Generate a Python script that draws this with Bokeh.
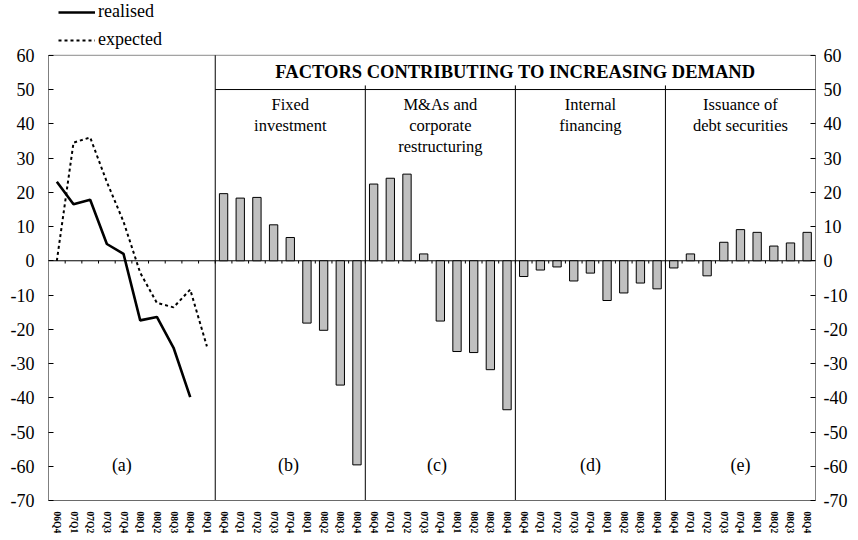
from bokeh.plotting import figure
from bokeh.models import Range1d, LinearAxis, FixedTicker, Legend, LegendItem
from bokeh.core.properties import value
from bokeh.embed import file_html
from bokeh.resources import INLINE

# ---------------- data ----------------
quarters_a = ["06Q4", "07Q1", "07Q2", "07Q3", "07Q4", "08Q1", "08Q2", "08Q3", "08Q4", "09Q1"]
quarters_b = ["06Q4", "07Q1", "07Q2", "07Q3", "07Q4", "08Q1", "08Q2", "08Q3", "08Q4"]
realised = [23.1, 16.5, 17.8, 4.9, 2.0, -17.4, -16.4, -25.4, -39.8]
expected = [0.0, 34.5, 36.0, 23.0, 11.4, -3.5, -12.3, -13.6, -8.4, -25.0]
fixed_investment = [19.6, 18.3, 18.5, 10.5, 6.8, -18.2, -20.3, -36.3, -59.6]
mergers_restructuring = [22.4, 24.1, 25.3, 2.0, -17.6, -26.5, -26.8, -31.8, -43.5]
internal_financing = [-4.6, -2.7, -1.8, -5.9, -3.6, -11.6, -9.4, -6.5, -8.2]
debt_securities = [-2.1, 2.0, -4.4, 5.4, 9.1, 8.3, 4.3, 5.2, 8.3]
panel_titles = ["Fixed\ninvestment", "M&As and\ncorporate\nrestructuring",
                "Internal\nfinancing", "Issuance of\ndebt securities"]
panel_letters = ["(a)", "(b)", "(c)", "(d)", "(e)"]
header = "FACTORS CONTRIBUTING TO INCREASING DEMAND"
y_ticks = [-70, -60, -50, -40, -30, -20, -10, 0, 10, 20, 30, 40, 50, 60]

FONT = "Liberation Serif"
AXIS_FONT = "'Liberation Serif', serif"
BAR_FILL = "#c0c0c0"

bar_series = [fixed_investment, mergers_restructuring, internal_financing, debt_securities]
n_a = len(quarters_a)
n_b = len(quarters_b)
offsets = [n_a + k * n_b for k in range(len(bar_series))]
total = n_a + len(bar_series) * n_b
y_min, y_max = y_ticks[0], y_ticks[-1]
HEADROOM = 16.0  # extra range above the axis top, room for the legend

p = figure(width=850, height=536, x_range=Range1d(0, total),
           y_range=Range1d(y_min, y_max + HEADROOM),
           output_backend="svg", toolbar_location=None,
           min_border_left=48, min_border_right=35, min_border_top=0, min_border_bottom=35)
p.xgrid.visible = False
p.ygrid.visible = False
p.outline_line_color = None
p.background_fill_color = "white"
p.border_fill_color = "white"

# ---------------- x axis labels ----------------
all_labels = quarters_a + quarters_b * len(bar_series)
centers = [i + 0.5 for i in range(total)]
xa = p.xaxis[0]
xa.ticker = FixedTicker(ticks=centers)
xa.major_label_overrides = {c: lab for c, lab in zip(centers, all_labels)}
xa.major_label_orientation = "vertical"
xa.major_label_text_font = AXIS_FONT
xa.major_label_text_font_style = "bold"
xa.major_label_text_font_size = "9.5px"
xa.major_label_text_color = "black"
xa.major_tick_line_color = None
xa.minor_tick_line_color = None
xa.axis_line_color = "#6a6a6a"
xa.major_label_standoff = 5

# ---------------- y axes ----------------
ya = p.yaxis[0]
ra = LinearAxis()
p.add_layout(ra, "right")
for ax, standoff in ((ya, 14), (ra, 8)):
    ax.ticker = FixedTicker(ticks=y_ticks)
    ax.major_label_overrides = {t: str(t) for t in y_ticks}
    ax.major_tick_in = 5
    ax.major_tick_out = 0
    ax.minor_tick_line_color = None
    ax.axis_line_color = None
    ax.major_tick_line_color = "black"
    ax.major_label_text_font = AXIS_FONT
    ax.major_label_text_font_size = "18px"
    ax.major_label_text_color = "black"
    ax.major_label_standoff = standoff

# axis lines / top border limited to the value range
p.segment(x0=[0, total], y0=[y_min, y_min], x1=[0, total], y1=[y_max, y_max],
          line_color="black", line_width=1)
p.segment(x0=[0], y0=[y_max], x1=[total], y1=[y_max], line_color="#8a8a8a", line_width=1)

# ---------------- zero line with small category ticks ----------------
p.segment(x0=[0], y0=[0], x1=[total], y1=[0], line_color="black", line_width=1)
bounds = list(range(1, total))
p.segment(x0=bounds, y0=[0] * len(bounds), x1=bounds, y1=[-0.8] * len(bounds),
          line_color="black", line_width=1)

# ---------------- panel (a) lines ----------------
r_real = p.line(centers[:len(realised)], realised, line_color="black", line_width=2.6)
r_exp = p.line(centers[:len(expected)], expected, line_color="black", line_width=2,
               line_dash="3 3")

# ---------------- bars ----------------
for off, series in zip(offsets, bar_series):
    xs = [off + i + 0.5 for i in range(len(series))]
    p.vbar(x=xs, top=series, bottom=0, width=0.5, fill_color=BAR_FILL,
           line_color="black", line_width=1)

# ---------------- separators & header box ----------------
p.segment(x0=[offsets[0]], y0=[y_min], x1=[offsets[0]], y1=[y_max], line_color="black", line_width=1)
p.segment(x0=offsets[1:], y0=[y_min] * 3, x1=offsets[1:], y1=[51.2] * 3, line_color="black", line_width=1)
p.segment(x0=[offsets[0]], y0=[50], x1=[total], y1=[50], line_color="black", line_width=1)

p.text(x=[(offsets[0] + total) / 2], y=[55.2], text=[header], text_font=value(FONT),
       text_font_style="bold", text_font_size="18.5px", text_align="center",
       text_baseline="middle", text_color="black")

title_x = [off + n_b / 2 for off in offsets]
p.text(x=title_x, y=[48.4] * len(title_x), text=panel_titles, text_font=value(FONT),
       text_font_size="16.5px", text_align="center", text_baseline="top",
       text_line_height=1.1, text_color="black")

letter_x = [4.4, 14.4, 23.3, 32.5, 41.5]
p.text(x=letter_x, y=[-59.5] * 5, text=panel_letters, text_font=value(FONT),
       text_font_size="18px", text_align="center", text_baseline="middle", text_color="black")

# ---------------- legend (top-left, above the value range) ----------------
legend = Legend(items=[LegendItem(label="realised", renderers=[r_real]),
                       LegendItem(label="expected", renderers=[r_exp])],
                location=(10, 450), orientation="vertical",
                glyph_width=37, glyph_height=14, label_height=14, spacing=7,
                label_standoff=3, padding=0, margin=0,
                border_line_color=None, background_fill_alpha=0,
                label_text_font=FONT, label_text_font_size="18px", label_text_color="black")
p.add_layout(legend, "center")

open("out.html", "w").write(file_html(p, INLINE))
